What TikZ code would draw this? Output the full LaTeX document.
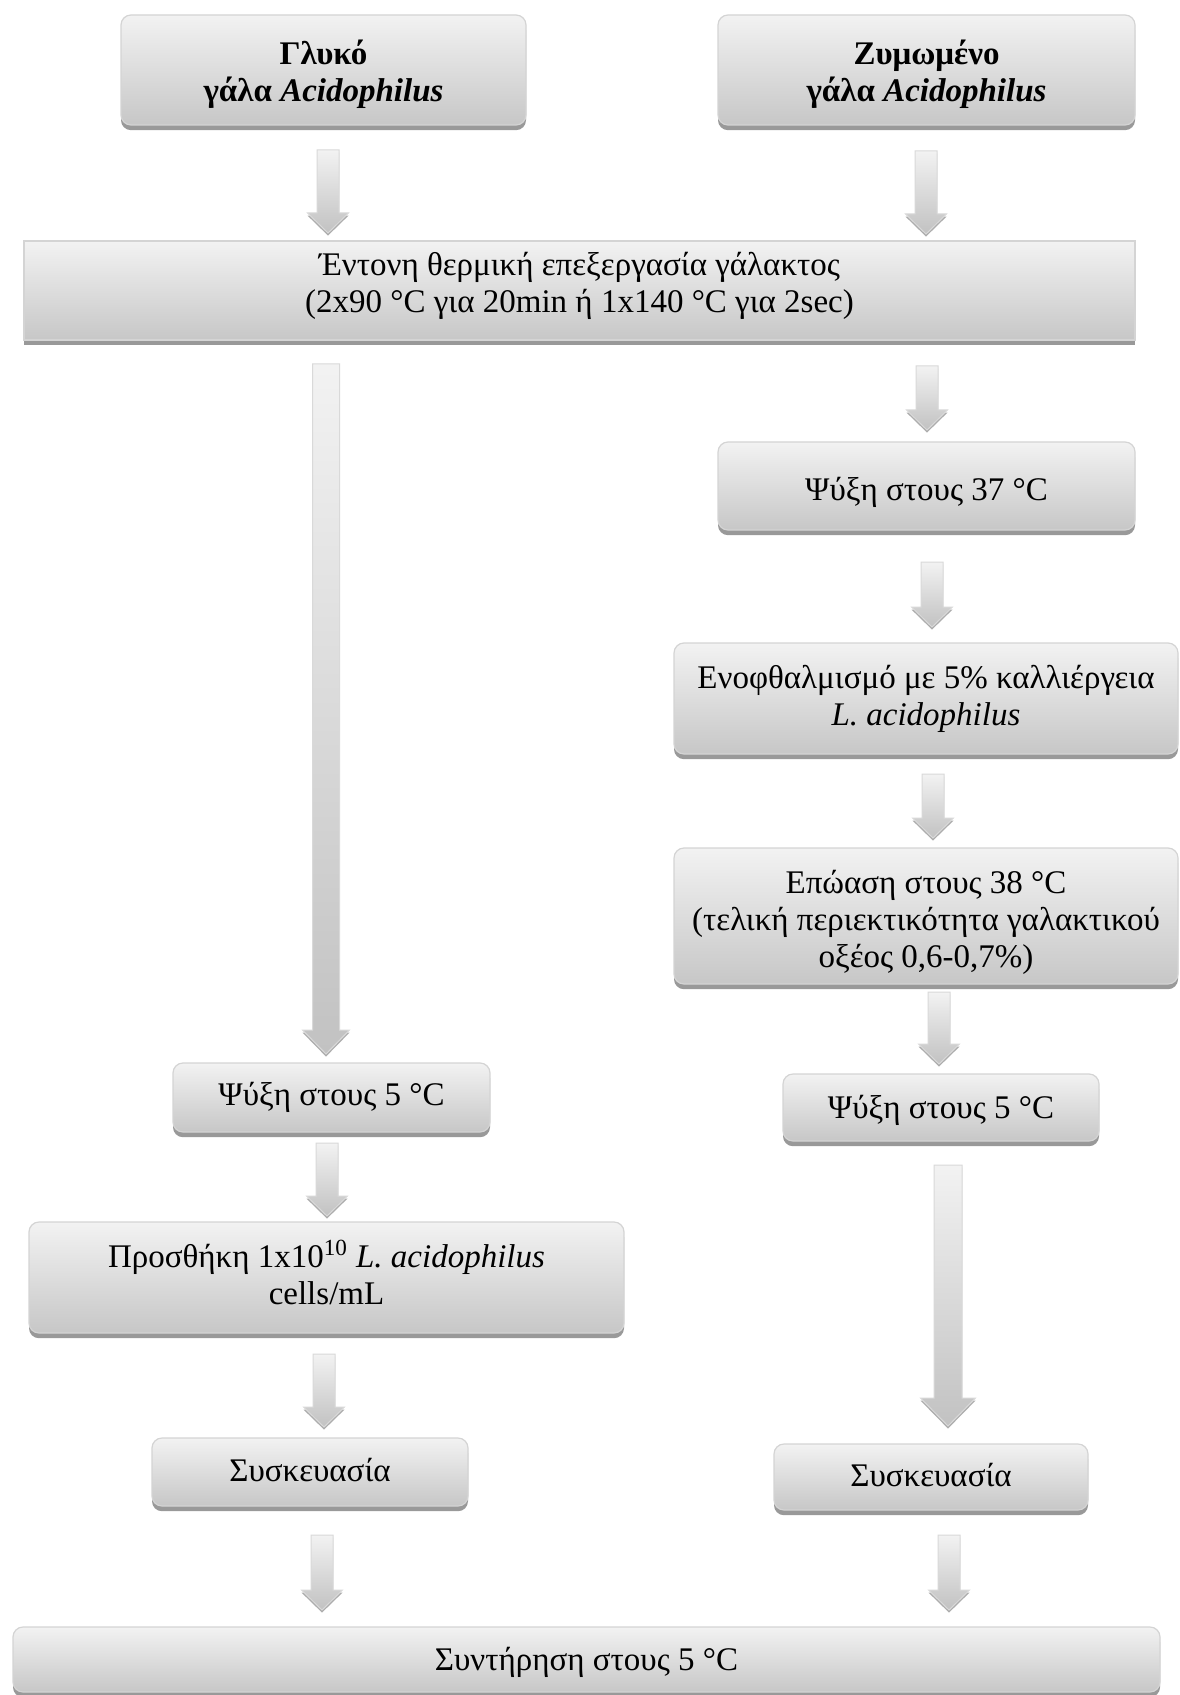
\documentclass[tikz,border=0pt]{standalone}
\usepackage{fontspec}
\setmainfont{Liberation Serif}
\usetikzlibrary{shadows,calc}
\tikzset{
  box/.style={rounded corners=5pt, draw=black!17, line width=0.6pt,
    top color=black!5, bottom color=black!22,
    inner sep=0pt,
    general shadow={fill=black!40, shadow yshift=-2.6pt}},
  sqbox/.style={box, sharp corners},
  boxtext/.style={text=black, align=center, inner sep=0pt,
    font=\fontsize{16.5}{18.5}\selectfont},
  arr/.style={top color=black!5, bottom color=black!24, draw=black!15, line width=0.5pt,
    general shadow={fill=black!32, shadow yshift=-1.3pt}},
}
% #1 style, #2 name, #3 cx, #4 cy, #5 width (pt), #6 height (pt), #7 text offset (px), #8 text
\newcommand\flowbox[8]{%
  \node[#1, minimum width=#5, minimum height=#6] (#2) at (#3,#4) {};
  \node[boxtext] (#2t) at ($(#2.center)+(0,#7)$) {#8};}
% #1 start coordinate, #2 tip coordinate, #3 half shaft, #4 half head, #5 head depth
\newcommand\fatarrow[5]{%
  \path[arr] let \p1=(#1), \p2=(#2) in
    (\x1-#3,\y1) -- (\x1+#3,\y1) -- (\x1+#3,\y2+#5) -- (\x1+#4,\y2+#5) --
    (\x1,\y2) -- (\x1-#4,\y2+#5) -- (\x1-#3,\y2+#5) -- cycle;}
\newcommand\smallarrow[2]{\fatarrow{#1}{#2}{5.5pt}{10.25pt}{10pt}}
\begin{document}
\begin{tikzpicture}[x=0.5pt,y=-0.5pt]
\fill[white] (0,0) rectangle (1179,1695);
\useasboundingbox (0,0) rectangle (1179,1695);

% boxes
\flowbox{box}{b1}{323.5}{70}{202.5pt}{55pt}{4}
  {\textbf{Γλυκό}\\\textbf{γάλα \textit{Acidophilus}}}
\flowbox{box}{b2}{926.5}{70}{208.5pt}{55pt}{4}
  {\textbf{Ζυμωμένο}\\\textbf{γάλα \textit{Acidophilus}}}
\flowbox{sqbox}{b3}{579.5}{290.5}{555.5pt}{49.5pt}{-5}
  {Έντονη θερμική επεξεργασία γάλακτος\\(2x90 °C για 20min ή 1x140 °C για 2sec)}
\flowbox{box}{b4}{926.5}{486}{208.5pt}{44pt}{6}
  {Ψύξη στους 37 °C}
\flowbox{box}{b5}{926}{698.5}{252pt}{55.5pt}{0}
  {Ενοφθαλμισμό με 5\% καλλιέργεια\\\textit{L. acidophilus}}
\flowbox{box}{b6}{926}{916}{252pt}{68pt}{6}
  {Επώαση στους 38 °C\\(τελική περιεκτικότητα γαλακτικού\\οξέος 0,6-0,7\%)}
\flowbox{box}{b7}{331.5}{1097.5}{158.5pt}{34.5pt}{0}
  {Ψύξη στους 5 °C}
\flowbox{box}{b8}{941}{1107.5}{158pt}{33.5pt}{3}
  {Ψύξη στους 5 °C}
\flowbox{box}{b9}{326.5}{1277.5}{297.5pt}{55.5pt}{-5}
  {Προσθήκη 1x10\textsuperscript{10} \textit{L. acidophilus}\\cells/mL}
\flowbox{box}{b10}{310}{1472}{158pt}{34pt}{-2}
  {Συσκευασία}
\flowbox{box}{b11}{931}{1477}{157pt}{33pt}{-2}
  {Συσκευασία}
\flowbox{box}{b12}{586.5}{1659.5}{573.5pt}{32.5pt}{3}
  {Συντήρηση στους 5 °C}

% arrow end points
\coordinate (a1s) at (328,150);  \coordinate (a1e) at (328,233);
\coordinate (a2s) at (926,151);  \coordinate (a2e) at (926,234);
\coordinate (a3s) at (326,364);  \coordinate (a3e) at (326,1054);
\coordinate (a4s) at (927,366);  \coordinate (a4e) at (927,430);
\coordinate (a5s) at (932,562);  \coordinate (a5e) at (932,627);
\coordinate (a6s) at (933,774);  \coordinate (a6e) at (933,838);
\coordinate (a7s) at (939,992);  \coordinate (a7e) at (939,1064);
\coordinate (a8s) at (327,1143); \coordinate (a8e) at (327,1216);
\coordinate (a9s) at (948,1165); \coordinate (a9e) at (948,1426);
\coordinate (a10s) at (324,1354); \coordinate (a10e) at (324,1427);
\coordinate (a11s) at (322,1535); \coordinate (a11e) at (322,1610);
\coordinate (a12s) at (949,1535); \coordinate (a12e) at (949,1610);

\smallarrow{a1s}{a1e}
\smallarrow{a2s}{a2e}
\fatarrow{a3s}{a3e}{6.75pt}{11.75pt}{12pt}
\smallarrow{a4s}{a4e}
\smallarrow{a5s}{a5e}
\smallarrow{a6s}{a6e}
\smallarrow{a7s}{a7e}
\smallarrow{a8s}{a8e}
\fatarrow{a9s}{a9e}{7pt}{13.75pt}{14pt}
\smallarrow{a10s}{a10e}
\smallarrow{a11s}{a11e}
\smallarrow{a12s}{a12e}
\end{tikzpicture}
\end{document}
